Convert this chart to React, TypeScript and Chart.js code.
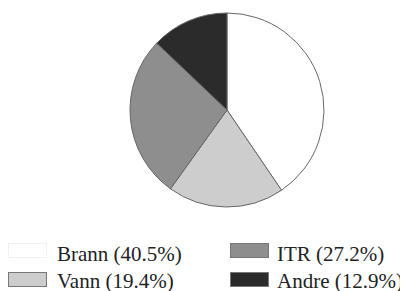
import React, { useEffect, useRef } from "react";
import { Chart, registerables } from "chart.js";

Chart.register(...registerables);

const categories = ["Brann", "Vann", "ITR", "Andre"];
const values = [40.5, 19.4, 27.2, 12.9];
const colors = ["#ffffff", "#cdcdcd", "#8e8e8e", "#2b2b2b"];
const legendOrder = [0, 2, 1, 3];

export default function App() {
  const ref = useRef<HTMLCanvasElement>(null);
  useEffect(() => {
    document.body.style.overflow = "hidden";
    if (!ref.current) return;
    const chart = new Chart(ref.current, {
      type: "pie",
      data: {
        labels: categories,
        datasets: [
          {
            data: values,
            backgroundColor: colors,
            borderColor: "#666666",
            borderWidth: 1,
          },
        ],
      },
      options: {
        animation: false,
        responsive: true,
        maintainAspectRatio: false,
        radius: 97,
        layout: { padding: { left: 46, top: 0, right: 0, bottom: 0 } },
        plugins: { legend: { display: false }, tooltip: { enabled: false } },
      },
    });
    return () => chart.destroy();
  }, []);

  const font = "'Liberation Serif', 'Times New Roman', serif";
  return (
    <div style={{ position: "relative", width: 392, height: 283 }}>
      <div style={{ position: "absolute", left: 0, top: 0, width: 392, height: 204 }}>
        <canvas ref={ref} />
      </div>
      {legendOrder.map((idx, i) => {
        const col = i % 2;
        const row = Math.floor(i / 2);
        const sx = col === 0 ? 0 : 222;
        const tx = col === 0 ? 49 : 269;
        const sy = row === 0 ? 235 : 264;
        const ty = row === 0 ? 236 : 262.5;
        return (
          <React.Fragment key={idx}>
            <div
              style={{
                position: "absolute",
                left: sx,
                top: sy,
                width: 39,
                height: 15,
                background: colors[idx],
                border: idx === 0 ? "1px solid #f0f0f0" : "1px solid #777",
                boxSizing: "border-box",
              }}
            />
            <div
              style={{
                position: "absolute",
                left: tx,
                top: ty,
                fontFamily: font,
                fontSize: 21,
                lineHeight: "21px",
                color: "#222",
                whiteSpace: "nowrap",
              }}
            >
              {`${categories[idx]} (${values[idx].toFixed(1)}%)`}
            </div>
          </React.Fragment>
        );
      })}
    </div>
  );
}
